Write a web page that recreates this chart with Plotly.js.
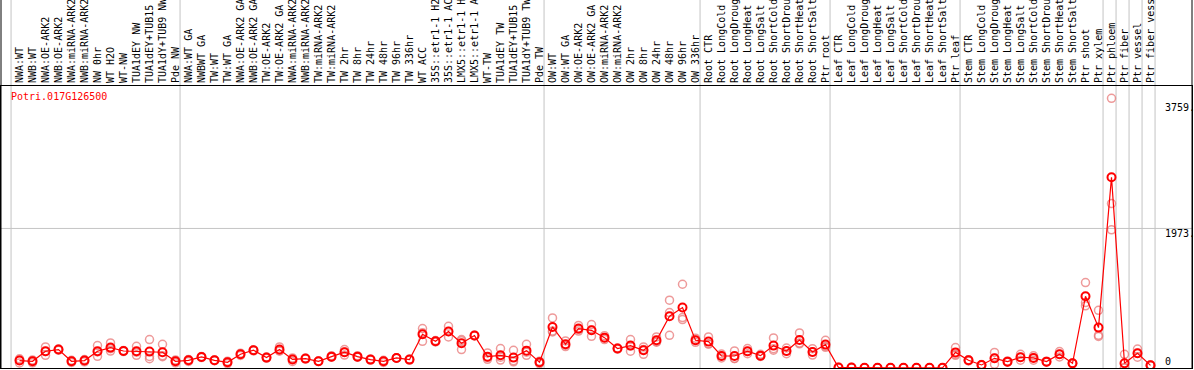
<!DOCTYPE html>
<html>
<head>
<meta charset="utf-8">
<script src="https://cdn.plot.ly/plotly-3.0.1.min.js"></script>
<style>
html,body{margin:0;padding:0;background:#fff;}
#chart{width:1194px;height:370px;}
</style>
</head>
<body>
<div id="chart"></div>
<script>
// ---- data ----
const geneId = "Potri.017G126500";

const categories = [
  "NWA:WT","NWB:WT","NWA:OE-ARK2","NWB:OE-ARK2","NWA:miRNA-ARK2","NWB:miRNA-ARK2",
  "NW 0hr","WT H2O","WT-NW","TUA1dEY NW","TUA1dEY+TUB15 NW","TUA1dY+TUB9 NW","Pde NW",
  "NWA:WT GA","NWBWT GA","TW:WT","TW:WT GA","NWA:OE-ARK2 GA","NWB:OE-ARK2 GA","TW:OE-ARK2",
  "TW:OE-ARK2 GA","NWA:miRNA-ARK2 GA","NWB:miRNA-ARK2 GA","TW:miRNA-ARK2","TW:miRNA-ARK2 GA",
  "TW 2hr","TW 8hr","TW 24hr","TW 48hr","TW 96hr","TW 336hr","WT ACC",
  "35S::etr1-1 H2O","35S::etr1-1 ACC","LMX5::etr1-1 H2O","LMX5::etr1-1 ACC",
  "WT-TW","TUA1dEY TW","TUA1dEY+TUB15 TW","TUA1dY+TUB9 TW","Pde TW",
  "OW:WT","OW:WT GA","OW:OE-ARK2","OW:OE-ARK2 GA","OW:miRNA-ARK2","OW:miRNA-ARK2 GA",
  "OW 2hr","OW 8hr","OW 24hr","OW 48hr","OW 96hr","OW 336hr",
  "Root CTR","Root LongCold","Root LongDrought","Root LongHeat","Root LongSalt",
  "Root ShortCold","Root ShortDrought","Root ShortHeat","Root ShortSalt","Ptr root",
  "Leaf CTR","Leaf LongCold","Leaf LongDrought","Leaf LongHeat","Leaf LongSalt",
  "Leaf ShortCold","Leaf ShortDrought","Leaf ShortHeat","Leaf ShortSalt","Ptr leaf",
  "Stem CTR","Stem LongCold","Stem LongDrought","Stem LongHeat","Stem LongSalt",
  "Stem ShortCold","Stem ShortDrought","Stem ShortHeat","Stem ShortSalt","Ptr shoot",
  "Ptr xylem","Ptr phloem","Ptr fiber","Ptr vessel","Ptr fiber vessel"
];

const meanValues = [
  102,92,234,258,92,102,234,286,238,234,229,220,92,
  106,153,106,78,191,248,144,258,118,130,92,158,
  220,158,116,92,139,116,475,375,513,347,456,158,177,144,243,78,
  578,333,555,531,427,272,314,248,390,730,853,390,
  371,167,167,234,172,314,238,394,224,328,
  3,3,0,0,0,0,0,0,0,218,
  106,40,134,87,149,139,87,191,64,1013,569,
  2697,64,205,35
];

const rep1 = [
  68,70,295,250,75,85,314,352,230,305,399,333,70,
  90,145,100,60,175,240,135,295,140,125,88,170,
  258,170,110,75,135,110,555,365,588,399,450,210,272,248,333,60,
  706,380,600,612,400,265,399,295,437,957,1183,360,
  437,140,238,272,190,422,280,493,270,390,
  0,0,0,0,0,0,0,0,0,287,
  115,35,218,95,190,170,80,229,60,1207,814,
  3815,190,265,30
];
const rep2 = [
  110,95,177,258,95,105,163,270,238,177,160,170,95,
  110,153,106,80,191,248,145,240,90,130,92,150,
  180,150,116,95,139,116,375,375,437,258,456,120,150,100,220,80,
  508,300,520,446,427,272,234,191,370,782,711,390,
  340,167,130,200,165,250,200,350,180,290,
  0,5,0,0,0,0,0,0,0,190,
  106,40,50,87,149,139,87,191,64,924,460,
  2325,0,205,35
];
const rep3 = [
  128,111,230,266,106,116,225,236,246,220,128,157,111,
  118,161,112,94,207,256,152,239,124,135,96,154,
  222,154,122,106,143,122,495,385,514,384,462,144,110,84,176,94,
  520,319,545,535,454,279,309,258,363,460,683,420,
  336,194,133,230,161,270,234,339,222,304,
  8,4,0,0,0,0,0,0,0,177,
  97,45,134,79,108,108,94,153,68,878,443,
  1953,2,150,40
];

// category numbers after which a vertical separator is drawn
const groupEnds = [0, 13, 41, 53, 63, 73, 84, 85, 86, 87, 88];

const yTickValues = [0, 1973, 3759];
const yTickLabels = ["0", "1973.", "3759."];

// ---- chart ----
const W = 1194, H = 370;
const M = {l: 1, r: 2, t: 86, b: 2};
const plotW = W - M.l - M.r, plotH = H - M.t - M.b;
const FONT = "DejaVu Sans Mono, monospace";

const xIdx = categories.map((_, i) => i + 1);

const repTrace = {
  type: "scatter", mode: "markers",
  x: xIdx.concat(xIdx, xIdx),
  y: rep1.concat(rep2, rep3),
  marker: {symbol: "circle-open", size: 8, color: "rgba(232,120,120,0.75)", line: {width: 1.5}},
  hoverinfo: "skip", showlegend: false
};
const meanTrace = {
  type: "scatter", mode: "lines+markers",
  x: xIdx, y: meanValues,
  line: {color: "#ff0000", width: 1.2},
  marker: {symbol: "circle-open", size: 8, color: "#ff0000", line: {width: 2}},
  showlegend: false
};

const headerTop = 1 + M.t / plotH;
const shapes = [];
groupEnds.forEach(g => {
  shapes.push({type: "line", xref: "x", yref: "paper", x0: g + 0.35, x1: g + 0.35,
    y0: 0, y1: headerTop, line: {color: "#c4c4c4", width: 1}, layer: "below"});
});
shapes.push({type: "line", xref: "paper", yref: "y", x0: 0, x1: 1, y0: yTickValues[1], y1: yTickValues[1],
  line: {color: "#c4c4c4", width: 1}, layer: "below"});
// outer frame extended through the header area
shapes.push({type: "line", xref: "paper", yref: "paper", x0: 0, x1: 0, y0: 0, y1: headerTop, line: {color: "#000", width: 1}});
shapes.push({type: "line", xref: "paper", yref: "paper", x0: 1, x1: 1, y0: 0, y1: headerTop, line: {color: "#000", width: 1}});

const labelX = (1163 - M.l) / plotW;
const annotations = yTickValues.map((v, i) => ({
  xref: "paper", yref: "y", x: labelX, y: v, xanchor: "left",
  yanchor: v === 0 ? "bottom" : "top", yshift: v === 0 ? -1 : 2,
  text: yTickLabels[i], showarrow: false, font: {family: FONT, size: 10, color: "#000"}
}));
annotations.push({
  xref: "paper", yref: "paper", x: (9 - M.l) / plotW, y: 1, xanchor: "left", yanchor: "top", yshift: -3,
  text: geneId, showarrow: false, font: {family: FONT, size: 10, color: "#ff0000"}
});

const x0 = 1 - (19.5 - M.l) / 13.0;
const x1 = x0 + plotW / 13.0;

const layout = {
  width: W, height: H,
  margin: {l: M.l, r: M.r, t: M.t, b: M.b, pad: 0},
  paper_bgcolor: "#fff", plot_bgcolor: "#fff",
  font: {family: FONT, size: 10, color: "#000"},
  xaxis: {
    range: [x0, x1], side: "top", tickmode: "array", tickvals: xIdx, ticktext: categories,
    tickangle: -90, ticks: "", showgrid: false, zeroline: false,
    showline: true, linecolor: "#000", linewidth: 1, mirror: true,
    tickfont: {family: FONT, size: 10, color: "#000"}, automargin: false
  },
  yaxis: {
    range: [-3, 3990], showgrid: false, zeroline: false, showticklabels: false, ticks: "",
    showline: true, linecolor: "#000", linewidth: 1, mirror: true, automargin: false
  },
  shapes: shapes,
  annotations: annotations,
  showlegend: false
};

Plotly.newPlot("chart", [repTrace, meanTrace], layout, {displayModeBar: false, staticPlot: true});
</script>
</body>
</html>
